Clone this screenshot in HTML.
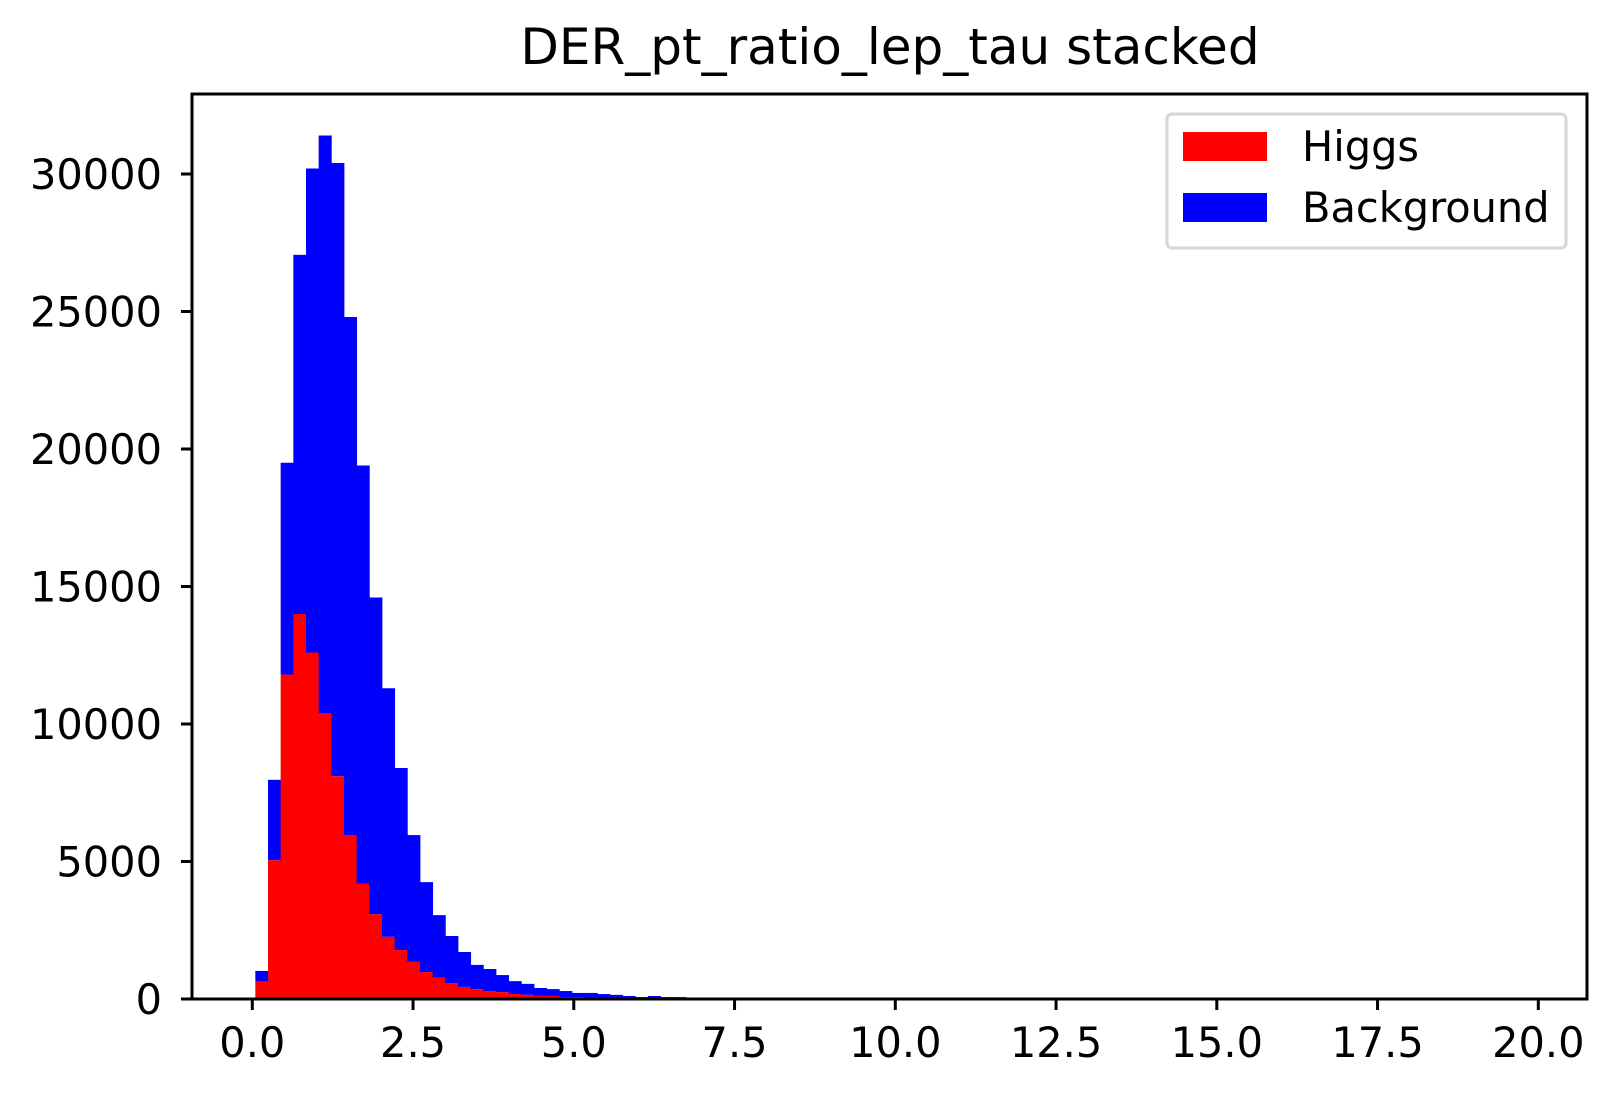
<!DOCTYPE html>
<html><head><meta charset="utf-8"><style>
html,body{margin:0;padding:0;background:#fff;}
svg{display:block;font-family:"DejaVu Sans","Liberation Sans",sans-serif;}
</style></head><body>
<svg id="chart" width="1620" height="1098" viewBox="0 0 1620 1098" xmlns="http://www.w3.org/2000/svg">
<rect width="1620" height="1098" fill="#fff"/>
<text x="890" y="64" font-size="50" text-anchor="middle">DER_pt_ratio_lep_tau stacked</text>
<g id="bars"></g>
<g id="axes"></g>
<g>
<rect x="1167" y="114" width="399" height="134" rx="5" fill="#fff" stroke="#d6d6d6" stroke-width="3"/>
<rect x="1183" y="132" width="84" height="29" fill="#ff0000"/>
<text x="1302" y="161" font-size="41.5">Higgs</text>
<rect x="1183" y="193" width="84" height="29" fill="#0000ff"/>
<text x="1302" y="222" font-size="41.5">Background</text>
</g>
</svg>
<script>
const binStart = 0.047;
const binWidth = 0.197;
const higgs = [630,5050,11800,14000,12600,10400,8100,5950,4200,3080,2260,1780,1350,980,770,580,440,360,290,250,180,150,110,110,70,60,50,40,30,20,20,15,10,10,5,5];
const totals = [1020,7970,19500,27060,30200,31400,30400,24800,19400,14600,11300,8400,5960,4250,3050,2290,1710,1240,1090,870,650,550,400,360,290,220,220,180,150,110,70,110,70,70,20,10];
const background = totals.map((t,i)=>t-higgs[i]);
const yTicks = [0,5000,10000,15000,20000,25000,30000];
const xTicks = [0,2.5,5,7.5,10,12.5,15,17.5,20];
const xTickLabels = ["0.0","2.5","5.0","7.5","10.0","12.5","15.0","17.5","20.0"];

const NS="http://www.w3.org/2000/svg";
const X0=192, X1=1587, Y0=94, Y1=999;
function xs(v){return 252.3+v*64.3;}
function ys(v){return 999-v*0.0275;}
function mk(tag,attrs,parent){const e=document.createElementNS(NS,tag);for(const k in attrs)e.setAttribute(k,attrs[k]);parent.appendChild(e);return e;}
const bars=document.getElementById('bars');
for(let i=0;i<higgs.length;i++){
  const l=xs(binStart+i*binWidth), r=xs(binStart+(i+1)*binWidth);
  const hTop=ys(higgs[i]), bTop=ys(higgs[i]+background[i]);
  const b=mk('rect',{x:l,y:bTop,width:r-l+0.4,height:hTop-bTop,fill:'#0000ff'},bars);
  
  
  const h=mk('rect',{x:l,y:hTop,width:r-l+0.4,height:Y1-hTop,fill:'#ff0000'},bars);
  
  
}
const axes=document.getElementById('axes');
const frame=mk('rect',{x:X0,y:Y0,width:X1-X0,height:Y1-Y0,fill:'none',stroke:'#000','stroke-width':3},axes);


yTicks.forEach(v=>{
  const y=ys(v);
  mk('line',{x1:X0-11,x2:X0,y1:y,y2:y,stroke:'#000','stroke-width':3},axes);
  const t=mk('text',{x:X0-30,y:y+15,'font-size':41.5,'text-anchor':'end'},axes);
  t.textContent=String(v);
  
  
});
xTicks.forEach((v,i)=>{
  const x=xs(v);
  mk('line',{x1:x,x2:x,y1:Y1,y2:Y1+11,stroke:'#000','stroke-width':3},axes);
  const t=mk('text',{x:x,y:1057,'font-size':41.5,'text-anchor':'middle'},axes);
  t.textContent=xTickLabels[i];
  
  
});
</script>
</body></html>
